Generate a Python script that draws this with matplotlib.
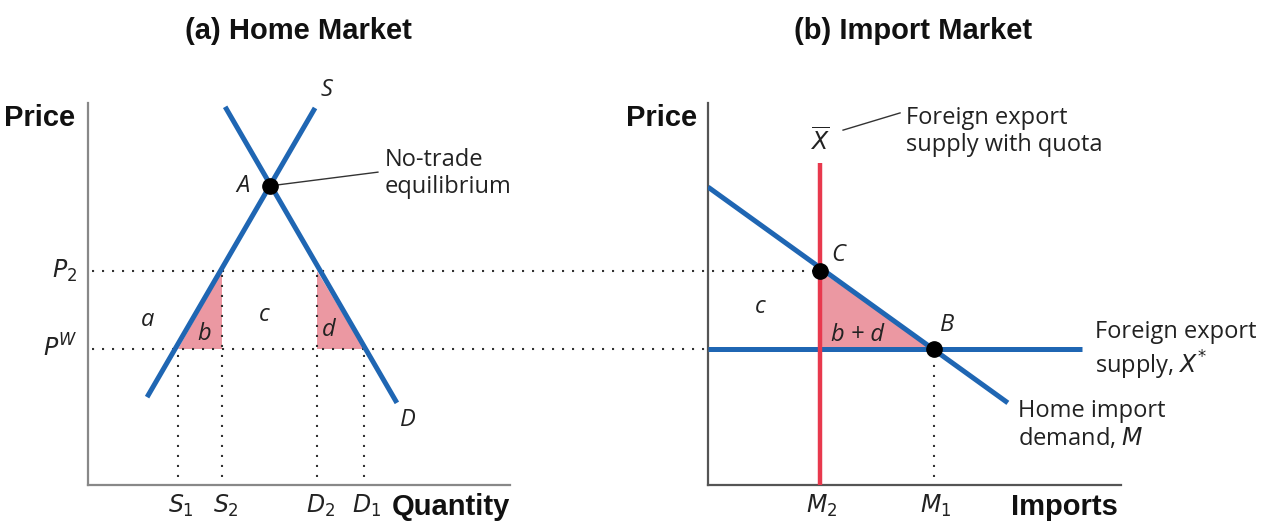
import matplotlib

matplotlib.use("Agg")
import matplotlib.pyplot as plt
from matplotlib.patches import Polygon

# ---- data ----
# Home market, quantity / price units
supply_q = [1.40, 5.38]
supply_p = [2.30, 9.87]
demand_q = [3.25, 7.32]
demand_p = [9.90, 2.15]
point_a = (4.31, 7.83)
price_levels = {"P2": 5.60, "PW": 3.56}
home_q = {"S1": 2.13, "S2": 3.18, "D2": 5.42, "D1": 6.53}

# Import market
import_demand_q = [0.0, 7.26]
import_demand_p = [7.80, 2.15]
export_supply_q = [0.0, 9.06]
quota_m2 = 2.71
quota_top = 8.43
free_m1 = 5.47

BLUE = "#1f66b3"
RED = "#e8394d"
PINK = "#eb98a2"
DOT = "#333333"
TXT = "#222222"
BODY = ["Open Sans", "DejaVu Sans"]
BOLD = ["Liberation Sans", "DejaVu Sans"]
DOTS = (0, (1, 3.8))
FS = 17

P2 = price_levels["P2"]
PW = price_levels["PW"]

fig = plt.figure(figsize=(12.63, 5.24), dpi=100)
ax1 = fig.add_axes([88 / 1263, 39 / 524, 422 / 1263, 382 / 524])
ax2 = fig.add_axes([708 / 1263, 39 / 524, 413 / 1263, 382 / 524])

for ax, spine_col in ((ax1, "#888888"), (ax2, "#555555")):
    ax.set_xlim(0, 10)
    ax.set_ylim(0, 10)
    ax.set_xticks([])
    ax.set_yticks([])
    for side in ("top", "right"):
        ax.spines[side].set_visible(False)
    for side in ("left", "bottom"):
        ax.spines[side].set_color(spine_col)
        ax.spines[side].set_linewidth(1.6)
    ax.set_facecolor("none")


def italic(ax, x, y, s, size=FS, **kw):
    ax.text(x, y, s, fontsize=size, style="italic", family=BODY,
            color=TXT, clip_on=False, **kw)


def plain(ax, x, y, s, **kw):
    ax.text(x, y, s, fontsize=FS, family=BODY, color=TXT, ha="left",
            va="center", linespacing=1.2, clip_on=False, **kw)


def bold(ax, x, y, s, **kw):
    ax.text(x, y, s, fontsize=21, fontweight="bold", family=BOLD,
            color="#111111", va="center", clip_on=False, **kw)


# ---- (a) Home market ----
ax1.fill([home_q["S1"], home_q["S2"], home_q["S2"]], [PW, PW, P2],
         color=PINK, lw=0, zorder=1)
ax1.fill([home_q["D2"], home_q["D2"], home_q["D1"]], [P2, PW, PW],
         color=PINK, lw=0, zorder=1)

# dotted price lines, carried across to the import market
to_ax1 = ax1.transData.inverted()
p2_end = to_ax1.transform(ax2.transData.transform((quota_m2, P2)))[0]
pw_end = to_ax1.transform(ax2.transData.transform((0.0, PW)))[0]
ax1.plot([0.1, p2_end], [P2, P2], color=DOT, linestyle=DOTS, lw=1.5,
         zorder=2, clip_on=False)
ax1.plot([0.1, pw_end], [PW, PW], color=DOT, linestyle=DOTS, lw=1.5,
         zorder=2, clip_on=False)
ax1.vlines([home_q["S1"], home_q["D1"]], 0.2, PW, colors=DOT,
           linestyles=DOTS, lw=1.5, zorder=2)
ax1.vlines([home_q["S2"], home_q["D2"]], 0.2, P2, colors=DOT,
           linestyles=DOTS, lw=1.5, zorder=2)

ax1.plot(supply_q, supply_p, color=BLUE, lw=3.6, zorder=3,
         solid_capstyle="butt")
ax1.plot(demand_q, demand_p, color=BLUE, lw=3.6, zorder=3,
         solid_capstyle="butt")
ax1.plot([point_a[0], 6.87], [point_a[1], 8.19], color="#333333", lw=1,
         zorder=3)
ax1.plot(*point_a, "o", color="black", ms=11, zorder=4)

italic(ax1, 5.66, 10.34, "S", ha="center", va="center")
italic(ax1, 7.58, 1.70, "D", ha="center", va="center")
italic(ax1, 3.84, point_a[1], "A", ha="right", va="center")
plain(ax1, 7.04, 8.15, "No-trade\nequilibrium")
italic(ax1, 1.42, 4.32, "a", ha="center", va="center")
italic(ax1, 2.75, 3.95, "b", ha="center", va="center")
italic(ax1, 4.17, 4.45, "c", ha="center", va="center")
italic(ax1, 5.71, 4.06, "d", ha="center", va="center")

italic(ax1, -0.25, P2, "$P_2$", ha="right", va="center")
italic(ax1, -0.25, PW, "$P^W$", ha="right", va="center")
for name, q in home_q.items():
    italic(ax1, q + 0.08, -0.55, f"${name[0]}_{name[1]}$",
           ha="center", va="center")

bold(ax1, 10, -0.58, "Quantity", ha="right")
bold(ax1, -0.31, 9.6, "Price", ha="right")
fig.text(298 / 1263, 1 - 31 / 524, "(a) Home Market", fontsize=21,
         fontweight="bold", family=BOLD, color="#111111",
         ha="center", va="center")

# ---- (b) Import market ----
ax2.add_patch(Polygon([[quota_m2, P2], [quota_m2, PW], [free_m1, PW]],
                      closed=True, color=PINK, lw=0, zorder=1))
ax2.vlines(free_m1, 0.2, PW, colors=DOT, linestyles=DOTS, lw=1.5, zorder=2)
ax2.plot(export_supply_q, [PW, PW], color=BLUE, lw=3.6, zorder=3,
         solid_capstyle="butt")
ax2.plot(import_demand_q, import_demand_p, color=BLUE, lw=3.6, zorder=3,
         solid_capstyle="butt")
ax2.plot([quota_m2, quota_m2], [0, quota_top], color=RED, lw=3.2, zorder=3,
         solid_capstyle="butt")
ax2.plot([quota_m2, free_m1], [P2, PW], "o", color="black", ms=11, zorder=4)
ax2.plot([3.27, 4.65], [9.29, 9.74], color="#333333", lw=1, clip_on=False)

italic(ax2, quota_m2, 8.95, r"$\overline{X}$", ha="center", va="center")
plain(ax2, 4.79, 9.25, "Foreign export\nsupply with quota")
italic(ax2, 3.15, 6.02, "C", ha="center", va="center")
italic(ax2, 5.79, 4.19, "B", ha="center", va="center")
italic(ax2, 1.26, 4.66, "c", ha="center", va="center")
italic(ax2, 3.63, 3.93, "b + d", ha="center", va="center")
plain(ax2, 9.37, 3.50, "Foreign export\nsupply, $X^{*}$")
plain(ax2, 7.5, 1.57, "Home import\ndemand, $M$")

italic(ax2, quota_m2 + 0.05, -0.55, "$M_2$", ha="center", va="center")
italic(ax2, free_m1 + 0.05, -0.55, "$M_1$", ha="center", va="center")
bold(ax2, 9.93, -0.58, "Imports", ha="right")
bold(ax2, -0.27, 9.6, "Price", ha="right")
fig.text(913 / 1263, 1 - 31 / 524, "(b) Import Market", fontsize=21,
         fontweight="bold", family=BOLD, color="#111111",
         ha="center", va="center")

fig.savefig("out.png", dpi=100)
